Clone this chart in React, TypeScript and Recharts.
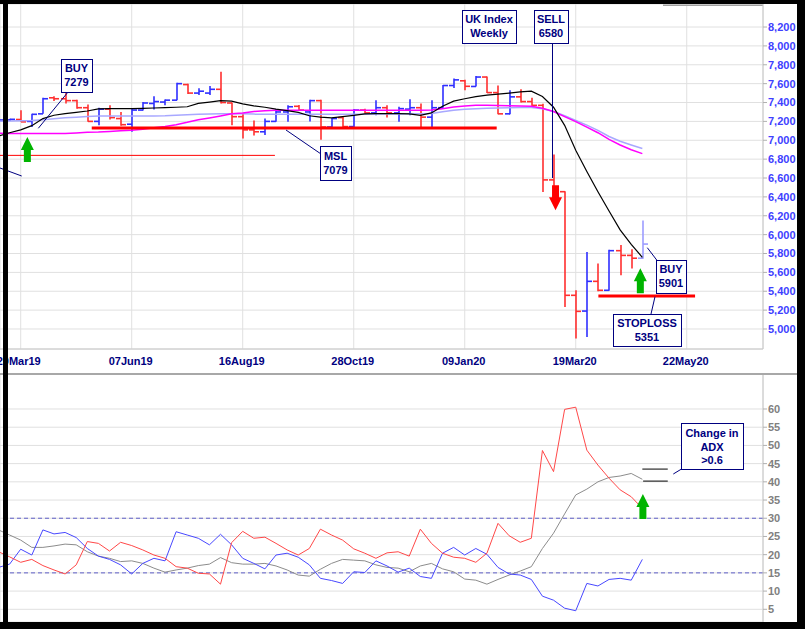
import React from "react";
import {
  ComposedChart,
  Bar,
  Line,
  XAxis,
  YAxis,
  CartesianGrid,
  ReferenceLine,
  ReferenceDot,
} from "recharts";

// --- Weekly OHLC (first row sits at week -1, just behind the left frame) ---
const open = [
  7205, 7215, 7220, 7200, 7280, 7450, 7440, 7420, 7345, 7200, 7330,
  7230, 7170, 7320, 7390, 7405, 7425, 7590, 7500, 7500, 7540,
  7395, 7250, 7110, 7090, 7200, 7300, 7360, 7300, 7420, 7140,
  7240, 7145, 7320, 7290, 7345, 7290, 7330, 7345, 7245, 7345,
  7580, 7630, 7570, 7670, 7505, 7280, 7460, 7410, 7370, 6580,
  6455, 5357, 5190, 5505, 5410, 5830, 5780, 5750,
];
const high = [
  7240, 7228, 7317, 7282, 7450, 7466, 7522, 7430, 7378, 7345, 7370,
  7300, 7330, 7405, 7466, 7432, 7610, 7600, 7550, 7575, 7725,
  7400, 7290, 7210, 7230, 7330, 7370, 7375, 7430, 7430, 7235,
  7250, 7330, 7335, 7425, 7370, 7355, 7435, 7390, 7425, 7585,
  7655, 7640, 7680, 7675, 7580, 7530, 7540, 7450, 7388, 6850,
  6460, 5410, 5816, 5693, 5840, 5890, 5845, 6150,
];
const low = [
  7185, 7205, 7193, 7140, 7280, 7416, 7390, 7335, 7195, 7160, 7220,
  7155, 7090, 7315, 7325, 7370, 7425, 7490, 7480, 7480, 7390,
  7160, 7020, 7050, 7055, 7195, 7195, 7310, 7200, 7005, 7135,
  7135, 7140, 7280, 7265, 7240, 7195, 7265, 7135, 7135, 7345,
  7555, 7530, 7570, 7500, 7275, 7275, 7400, 7360, 6452, 6450,
  5233, 4898, 4915, 5400, 5405, 5570, 5640, 5745,
];
const close = [
  7215, 7222, 7195, 7275, 7440, 7440, 7420, 7345, 7200, 7330, 7240,
  7165, 7320, 7395, 7410, 7425, 7600, 7500, 7520, 7540, 7400,
  7250, 7110, 7090, 7200, 7300, 7355, 7320, 7420, 7140, 7230,
  7145, 7320, 7290, 7345, 7290, 7335, 7345, 7245, 7345, 7580,
  7640, 7572, 7670, 7505, 7280, 7460, 7410, 7370, 6580, 6455,
  5357, 5187, 5505, 5410, 5830, 5780, 5750, 5900,
];

// --- Moving averages ---
const maFast = [
  7045, 7080, 7110, 7155, 7230, 7265, 7282, 7295, 7310, 7333, 7335,
  7335, 7335, 7338, 7342, 7346, 7350, 7355, 7390, 7405, 7420,
  7415, 7385, 7365, 7350, 7330, 7315, 7295, 7260, 7245, 7238,
  7250, 7264, 7280, 7282, 7282, 7282, 7280, 7264, 7290, 7360,
  7415, 7440, 7462, 7478, 7488, 7500, 7512, 7520, 7463, 7350,
  7158, 6894, 6670, 6455, 6250, 6050, 5896, 5760,
];
const maMid = [
  7200, 7203, 7206, 7210, 7218, 7228, 7238, 7245, 7252, 7256, 7258,
  7258, 7258, 7258, 7258, 7260, 7265, 7270, 7275, 7279, 7282,
  7282, 7280, 7277, 7275, 7275, 7275, 7275, 7275, 7275, 7275,
  7275, 7275, 7276, 7277, 7278, 7279, 7280, 7281, 7283, 7303,
  7318, 7328, 7335, 7338, 7341, 7344, 7346, 7346, 7335, 7305,
  7260, 7210, 7160, 7105, 7040, 6990, 6950, 6912,
];
const maSlow = [
  7075, 7072, 7072, 7072, 7072, 7072, 7072, 7078, 7085, 7087, 7093,
  7100, 7105, 7117, 7132, 7146, 7165, 7190, 7218, 7237, 7258,
  7280, 7290, 7305, 7312, 7317, 7317, 7317, 7317, 7317, 7317,
  7317, 7317, 7317, 7317, 7317, 7317, 7317, 7317, 7320, 7335,
  7352, 7362, 7370, 7370, 7368, 7365, 7362, 7360, 7340, 7305,
  7250, 7198, 7140, 7080, 7010, 6950, 6900, 6858,
];

// --- ADX panel ---
const diMinus = [
  20.8, 19.4, 17.9, 18.7, 17.0, 15.8, 14.7, 17.2, 23.6, 23.1, 21.0,
  23.4, 22.5, 21.3, 19.9, 19.0, 16.7, 16.3, 14.9, 14.7, 11.9,
  23.3, 26.4, 24.5, 24.8, 23.1, 21.3, 19.9, 21.7, 27.0, 25.4,
  24.0, 21.6, 20.4, 19.0, 20.5, 20.8, 19.6, 27.0, 23.1, 20.4,
  19.3, 19.0, 17.9, 20.4, 28.6, 25.2, 23.4, 24.5, 48.6, 42.8,
  59.9, 60.5, 48.7, 44.6, 41.0, 37.8, 35.9, 32.7,
];
const diPlus = [
  16.5, 17.4, 21.5, 19.9, 26.8, 25.7, 26.1, 24.7, 21.7, 19.6, 18.7,
  17.2, 14.7, 17.6, 19.0, 18.3, 26.3, 25.4, 24.5, 22.7, 25.6,
  22.7, 19.0, 17.6, 16.1, 19.9, 20.4, 19.3, 17.2, 13.5, 12.9,
  12.1, 15.3, 15.1, 18.3, 16.9, 15.2, 16.3, 14.0, 13.5, 20.4,
  22.0, 19.9, 21.7, 20.1, 16.5, 14.7, 14.4, 13.2, 8.6, 7.5,
  5.3, 4.6, 12.1, 11.4, 13.2, 13.5, 13.0, 18.7,
];
const adx = [
  26.8, 25.4, 24.0, 22.0, 22.0, 22.4, 22.9, 22.7, 20.8, 19.6, 19.0,
  18.1, 18.3, 17.6, 16.3, 15.2, 15.8, 16.3, 17.0, 17.4, 19.2,
  17.8, 17.4, 17.4, 17.6, 16.9, 15.8, 14.4, 14.1, 16.0, 17.6,
  18.7, 18.5, 18.3, 17.2, 16.5, 16.3, 15.3, 16.9, 17.6, 16.1,
  15.3, 13.3, 13.0, 11.9, 13.2, 14.4, 15.5, 16.7, 21.7, 25.9,
  31.2, 36.4, 38.0, 40.0, 41.2, 41.6, 42.3, 40.7,
];

// --- Axes ---
const tickWeeks = [1, 11, 21, 31, 41, 51, 61];
const tickLabels = ["29Mar19", "07Jun19", "16Aug19", "28Oct19", "09Jan20", "19Mar20", "22May20"];
const priceTicks = [5000, 5200, 5400, 5600, 5800, 6000, 6200, 6400, 6600, 6800, 7000, 7200, 7400, 7600, 7800, 8000, 8200];
const adxTicks = [5, 10, 15, 20, 25, 30, 35, 40, 45, 50, 55, 60];

const X_DOMAIN = [-0.865, 67.87];
const PRICE_DOMAIN = [4788, 8444];
const ADX_DOMAIN = [1.51, 69.61];

const rows = open.map((o, i) => ({
  week: i - 1,
  open: o,
  high: high[i],
  low: low[i],
  close: close[i],
  range: [low[i], high[i]],
  maFast: maFast[i],
  maMid: maMid[i],
  maSlow: maSlow[i],
  diMinus: diMinus[i],
  diPlus: diPlus[i],
  adx: adx[i],
}));

const FONT = '"Liberation Sans", Arial, sans-serif';
const NAVY = "#000080";
const GRID = "#e0e0e0";
const LAST_WEEK = rows[rows.length - 1].week;

function OhlcBar(props: any) {
  const { x, y, width, height, payload } = props;
  if (!payload || x == null || y == null) return null;
  const top = Math.min(y, y + height);
  const bot = Math.max(y, y + height);
  const span = payload.high - payload.low || 1;
  const toPx = (v: number) => top + ((payload.high - v) / span) * (bot - top);
  const cx = Math.round(x + width / 2);
  const up = payload.close >= payload.open;
  const color = payload.week === LAST_WEEK ? "#9c9cff" : up ? "#2f2fff" : "#ff2f2f";
  const yo = toPx(payload.open);
  const yc = toPx(payload.close);
  return (
    <g stroke={color} strokeWidth={1.6}>
      <line x1={cx} x2={cx} y1={top} y2={bot} />
      <line x1={cx - 5} x2={cx} y1={yo} y2={yo} />
      <line x1={cx} x2={cx + 5} y1={yc} y2={yc} />
    </g>
  );
}

const UpArrow = (props: any) => {
  const { cx, cy } = props;
  const pts = [
    [cx, cy], [cx + 6.5, cy + 13], [cx + 3.5, cy + 13], [cx + 3.5, cy + 25],
    [cx - 3.5, cy + 25], [cx - 3.5, cy + 13], [cx - 6.5, cy + 13],
  ].map((p) => p.join(",")).join(" ");
  return <polygon points={pts} fill="#00b400" />;
};

const DownArrow = (props: any) => {
  const { cx, cy } = props;
  const pts = [
    [cx, cy], [cx + 6.5, cy - 13], [cx + 3.5, cy - 13], [cx + 3.5, cy - 25],
    [cx - 3.5, cy - 25], [cx - 3.5, cy - 13], [cx - 6.5, cy - 13],
  ].map((p) => p.join(",")).join(" ");
  return <polygon points={pts} fill="#ff0000" />;
};

// date labels sit a touch left of their gridline; the first one more so
const DateTick = (props: any) => {
  const { x, y, payload } = props;
  const i = tickWeeks.indexOf(payload.value);
  return (
    <text x={x + (i === 0 ? -2 : -1)} y={y} dy="0.71em" textAnchor="middle" fill={NAVY}
      fontFamily={FONT} fontSize={11} fontWeight="bold">
      {tickLabels[i] ?? ""}
    </text>
  );
};

// Callout box: rect + centred bold lines
function Callout({ x, y, w, h, lines, baselines }: any) {
  const cx = x + w / 2;
  return (
    <g>
      <rect x={x + 0.5} y={y + 0.5} width={w} height={h} fill="#fff" stroke={NAVY} strokeWidth={1} />
      {lines.map((t: string, i: number) => (
        <text key={i} x={cx} y={baselines[i]} textAnchor="middle" fill={NAVY}
          fontFamily={FONT} fontSize={11} fontWeight="bold">{t}</text>
      ))}
    </g>
  );
}

const tickStyle = (fill: string) => ({ fill, fontSize: 11, fontWeight: "bold", fontFamily: FONT });

export default function App() {
  return (
    <div style={{ position: "absolute", left: 0, top: 0, width: 805, height: 629, background: "#fff", overflow: "hidden" }}>
      <div style={{ position: "absolute", left: 0, top: 0 }}>
        <ComposedChart width={805} height={373} data={rows} margin={{ top: 4, right: 0, bottom: 0, left: 0 }}>
          <CartesianGrid stroke={GRID} />
          <XAxis
            dataKey="week"
            type="number"
            domain={X_DOMAIN}
            allowDataOverflow
            ticks={tickWeeks}
            interval={0}
            tick={(p: any) => <DateTick {...p} />}
            tickLine={false}
            axisLine={{ stroke: "#c8c8c8" }}
            height={24}
          />
          <YAxis
            orientation="right"
            type="number"
            domain={PRICE_DOMAIN}
            allowDataOverflow
            ticks={priceTicks}
            interval={0}
            width={42}
            tickSize={4}
            tickMargin={1}
            tickFormatter={(v) => v.toLocaleString("en-US")}
            tick={tickStyle("#4040ff")}
            tickLine={{ stroke: "#b0b0b0" }}
            axisLine={{ stroke: "#c8c8c8" }}
          />
          <Line dataKey="maMid" type="linear" stroke="#a8a8ff" strokeWidth={1.5} dot={false} isAnimationActive={false} />
          <Line dataKey="maSlow" type="linear" stroke="#ff00ff" strokeWidth={1.5} dot={false} isAnimationActive={false} />
          <Line dataKey="maFast" type="linear" stroke="#000000" strokeWidth={1.2} dot={false} isAnimationActive={false} />
          <Bar dataKey="range" barSize={10} isAnimationActive={false} shape={(p: any) => <OhlcBar {...p} />} />
          <ReferenceLine ifOverflow="visible" segment={[{ x: -0.865, y: 6840 }, { x: 23.9, y: 6840 }]} stroke="#ff0000" strokeWidth={1} />
          <ReferenceLine ifOverflow="visible" segment={[{ x: 7.4, y: 7130 }, { x: 43.88, y: 7130 }]} stroke="#ff0000" strokeWidth={3} />
          <ReferenceLine ifOverflow="visible" segment={[{ x: 53.04, y: 5350 }, { x: 61.75, y: 5350 }]} stroke="#ff0000" strokeWidth={3} />
          <ReferenceLine ifOverflow="visible" segment={[{ x: 58.86, y: 8430 }, { x: 67.87, y: 8430 }]} stroke="#a0a0a0" strokeWidth={1.5} />
          <ReferenceDot x={1.6} y={7034} ifOverflow="visible" shape={(p: any) => <UpArrow {...p} />} />
          <ReferenceDot x={56.82} y={5643} ifOverflow="visible" shape={(p: any) => <UpArrow {...p} />} />
          <ReferenceDot x={49.18} y={6258} ifOverflow="visible" shape={(p: any) => <DownArrow {...p} />} />
        </ComposedChart>
      </div>

      <div style={{ position: "absolute", left: 0, top: 374 }}>
        <ComposedChart width={805} height={249} data={rows} margin={{ top: 0, right: 0, bottom: 0, left: 0 }}>
          <CartesianGrid stroke={GRID} />
          <XAxis
            dataKey="week"
            type="number"
            domain={X_DOMAIN}
            allowDataOverflow
            ticks={tickWeeks}
            interval={0}
            tick={false}
            tickLine={false}
            axisLine={false}
            height={1}
          />
          <YAxis
            orientation="right"
            type="number"
            domain={ADX_DOMAIN}
            allowDataOverflow
            ticks={adxTicks}
            interval={0}
            width={42}
            tickSize={4}
            tickMargin={1}
            tick={tickStyle("#808080")}
            tickLine={{ stroke: "#b0b0b0" }}
            axisLine={{ stroke: "#c8c8c8" }}
          />
          <ReferenceLine y={30} stroke="#6060c8" strokeDasharray="4 3" />
          <ReferenceLine y={15} stroke="#6060c8" strokeDasharray="4 3" />
          <Line dataKey="adx" type="linear" stroke="#8c8c8c" strokeWidth={1} dot={false} isAnimationActive={false} />
          <Line dataKey="diPlus" type="linear" stroke="#4848ff" strokeWidth={1} dot={false} isAnimationActive={false} />
          <Line dataKey="diMinus" type="linear" stroke="#ff4848" strokeWidth={1} dot={false} isAnimationActive={false} />
          <ReferenceLine ifOverflow="visible" segment={[{ x: 57, y: 43.5 }, { x: 59.29, y: 43.5 }]} stroke="#000" strokeWidth={1} />
          <ReferenceLine ifOverflow="visible" segment={[{ x: 57.07, y: 40.2 }, { x: 59.29, y: 40.2 }]} stroke="#000" strokeWidth={1} />
          <ReferenceDot x={57.05} y={36.66} ifOverflow="visible" shape={(p: any) => <UpArrow {...p} />} />
        </ComposedChart>
      </div>

      {/* callouts */}
      <svg width={805} height={629} style={{ position: "absolute", left: 0, top: 0, pointerEvents: "none" }}>
        <g stroke={NAVY} strokeWidth={1}>
          <line x1={38.3} y1={128.3} x2={68.3} y2={91.7} />
          <line x1={286} y1={130} x2={320} y2={153.3} />
          <line x1={552.5} y1={43.5} x2={552.5} y2={178} />
          <line x1={647.3} y1={247.7} x2={656.7} y2={260} />
          <line x1={651} y1={314} x2={655} y2={296.7} />
          <line x1={0} y1={168} x2={21.7} y2={176} />
          <line x1={673.3} y1={474} x2={681} y2={469.3} />
        </g>
        <Callout x={61} y={59} w={31} h={33} lines={["BUY", "7279"]} baselines={[71.7, 86]} />
        <Callout x={320} y={146} w={31} h={34} lines={["MSL", "7079"]} baselines={[160, 174]} />
        <Callout x={462} y={10} w={54} h={33} lines={["UK Index", "Weekly"]} baselines={[23.3, 36.7]} />
        <Callout x={534} y={10} w={34} h={33} lines={["SELL", "6580"]} baselines={[23.3, 36.7]} />
        <Callout x={656} y={260} w={30} h={33} lines={["BUY", "5901"]} baselines={[273.3, 287.3]} />
        <Callout x={613} y={314} w={68} h={32} lines={["STOPLOSS", "5351"]} baselines={[327.3, 340.7]} />
        <Callout x={681} y={423} w={62} h={46} lines={["Change in", "ADX", ">0.6"]} baselines={[436.7, 450.7, 464]} />
      </svg>

      {/* window frame */}
      <div style={{ position: "absolute", left: 0, top: 373, width: 797, height: 2, background: "#a8a8a8" }} />
      <div style={{ position: "absolute", left: 0, top: 0, width: 805, height: 4, background: "#000" }} />
      <div style={{ position: "absolute", left: 3, top: 0, width: 5, height: 629, background: "#000" }} />
      <div style={{ position: "absolute", left: 797, top: 0, width: 8, height: 629, background: "#000" }} />
      <div style={{ position: "absolute", left: 0, top: 622, width: 805, height: 7, background: "#000" }} />
    </div>
  );
}
